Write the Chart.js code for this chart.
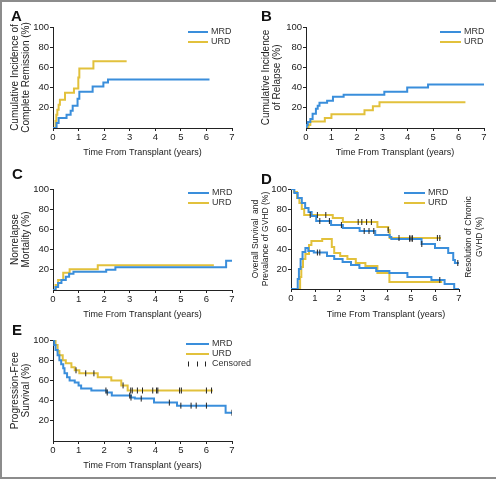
<!DOCTYPE html>
<html>
<head>
<meta charset="utf-8">
<script src="https://cdn.jsdelivr.net/npm/chart.js@4.4.1/dist/chart.umd.min.js"></script>
<style>
  body { margin: 0; background: #fff; }
  #page { position: relative; width: 496px; height: 480px; overflow: hidden; }
  #frame { position: absolute; left: 0; top: 0; width: 496px; height: 479px; box-sizing: border-box;
           border-top: 2px solid #8c8c8c; border-left: 2px solid #8c8c8c; border-bottom: 2px solid #8c8c8c; }
  canvas { position: absolute; }
  .tag { position: absolute; font: bold 15px 'Liberation Sans', Arial, sans-serif; line-height: 15px; color: #111; }
</style>
</head>
<body>
<div id="page">
  <div id="frame"></div>
  <canvas id="chartA" width="248" height="159" style="left:0;top:0"></canvas>
  <canvas id="chartB" width="248" height="159" style="left:248px;top:0"></canvas>
  <canvas id="chartC" width="248" height="161" style="left:0;top:160px"></canvas>
  <canvas id="chartD" width="248" height="159" style="left:248px;top:160px"></canvas>
  <canvas id="chartE" width="262" height="157" style="left:0;top:315px"></canvas>
  <div class="tag" style="left:11px;top:8px">A</div>
  <div class="tag" style="left:261px;top:8px">B</div>
  <div class="tag" style="left:12px;top:166px">C</div>
  <div class="tag" style="left:261px;top:171px">D</div>
  <div class="tag" style="left:12px;top:322px">E</div>
</div>
<script>
// axis ticks
const yearTicks = [0, 1, 2, 3, 4, 5, 6, 7];
const pctTicks = [20, 40, 60, 80, 100];

// A: cumulative incidence of complete remission
const crMrdT = [0, 0.14, 0.22, 0.53, 0.69, 0.77, 0.96, 1.03, 1.55, 1.97, 2.15, 6.12];
const crMrdV = [0, 5, 10, 13, 17, 22, 29, 36, 41, 45, 48, 48];
const crUrdT = [0, 0.1, 0.13, 0.17, 0.22, 0.27, 0.47, 0.82, 0.99, 1.03, 1.58, 2.88];
const crUrdV = [0, 7, 13, 18, 23, 28, 35, 39, 50, 59, 66, 66];

// B: cumulative incidence of relapse
const relMrdT = [0, 0.03, 0.07, 0.17, 0.26, 0.39, 0.46, 0.53, 0.83, 1.06, 1.48, 3.08, 3.98, 4.8, 7.0];
const relMrdV = [0, 3, 6, 9, 14, 19, 22, 25, 27, 31, 33, 36, 40, 43, 43];
const relUrdT = [0, 0.1, 0.17, 0.74, 1.0, 2.3, 2.63, 2.89, 6.27];
const relUrdV = [0, 3, 6.5, 10, 13.5, 17.5, 21.5, 25.5, 25.5];

// C: nonrelapse mortality
const nrmMrdT = [0, 0.1, 0.2, 0.33, 0.5, 0.63, 0.8, 2.08, 2.44, 6.77, 7.0];
const nrmMrdV = [0, 3, 7, 10, 13, 16, 18, 20, 22.5, 29, 29];
const nrmUrdT = [0, 0.1, 0.2, 0.4, 0.65, 1.75, 6.29];
const nrmUrdV = [0, 5, 10, 17, 20.5, 24.5, 24.5];

// D: overall survival, prevalence of chronic GVHD
const osMrdT = [0, 0.14, 0.28, 0.45, 0.59, 0.73, 0.86, 1.05, 1.67, 2.16, 2.86, 3.51, 4.11, 4.18, 5.44, 6.0, 6.55, 6.76, 6.83, 7.0];
const osMrdV = [100, 96, 91, 86, 81, 77, 73, 68, 64, 61, 58, 54, 52, 50, 45, 41, 36, 29, 26, 26];
const osMrdCens = [1.2, 1.6, 2.1, 3.05, 3.25, 3.45, 4.95, 5.05, 5.45, 6.95];
const osUrdT = [0, 0.12, 0.25, 0.35, 0.45, 0.55, 1.74, 2.16, 3.6, 4.05, 4.11, 6.25];
const osUrdV = [100, 97, 91, 86, 80, 74, 71, 67, 62, 59, 51, 51];
const osUrdCens = [0.8, 1.1, 1.45, 2.8, 2.95, 3.15, 3.35, 4.05, 4.5, 4.95, 5.05, 6.1, 6.2];
const gvMrdT = [0, 0.28, 0.33, 0.4, 0.48, 0.6, 0.72, 0.95, 1.5, 1.8, 2.15, 2.5, 2.85, 3.55, 4.1, 4.85, 5.85, 6.4, 6.8, 7.0];
const gvMrdV = [0, 10, 20, 30, 37, 41, 38, 36.5, 33, 30, 27, 24, 21, 18, 16, 12, 9, 5, 0, 0];
const gvMrdCens = [1.1, 1.2, 6.2];
const gvUrdT = [0, 0.38, 0.43, 0.5, 0.6, 0.75, 0.85, 1.3, 1.7, 1.8, 2.05, 2.35, 2.7, 3.1, 3.6, 4.1, 6.3];
const gvUrdV = [0, 12, 22, 30, 35, 44, 48, 50, 42, 36, 33, 30, 26, 23, 16, 7, 7];

// E: progression-free survival
const pfsMrdT = [0, 0.05, 0.1, 0.18, 0.25, 0.32, 0.4, 0.45, 0.55, 0.65, 0.85, 1.0, 1.1, 1.5, 2.1, 2.3, 3.05, 3.2, 3.95, 4.85, 6.75, 7.0];
const pfsMrdV = [100, 95, 90, 85, 80, 76, 72, 67, 63, 60, 58, 55, 52, 50, 48, 45, 43, 42, 38, 35, 28, 28];
const pfsMrdCens = [2.07, 2.12, 3.0, 3.05, 3.45, 4.55, 5.0, 5.4, 5.6, 6.0, 7.0];
const pfsUrdT = [0, 0.1, 0.18, 0.25, 0.38, 0.5, 0.72, 0.85, 1.03, 1.75, 2.28, 2.67, 2.92, 6.25];
const pfsUrdV = [100, 95, 89, 85, 80, 77, 73, 70, 67, 63, 60, 55, 50, 50];
const pfsUrdCens = [0.9, 1.28, 1.6, 2.74, 3.04, 3.1, 3.3, 3.5, 3.9, 4.05, 4.1, 4.95, 5.02, 6.0, 6.2];

const FONT = "'Liberation Sans', Arial, sans-serif";
const BLUE = '#3a8edb';
const GOLD = '#e2c13c';
const INK = '#222';

Chart.defaults.font.family = FONT;
Chart.defaults.font.size = 9;
Chart.defaults.color = INK;

function steps(ts, vs) {
  return ts.map((t, i) => ({ x: t, y: vs[i] }));
}

// censor marks sit on the curve at the value it has at that time
function valueAt(ts, vs, t) {
  let v = vs[0];
  for (let i = 0; i < ts.length; i++) if (ts[i] <= t) v = vs[i];
  return v;
}

function curve(ts, vs, color) {
  return { type: 'line', data: steps(ts, vs), borderColor: color, borderWidth: 2,
           stepped: 'before', pointRadius: 0, fill: false };
}

function censor(times, ts, vs) {
  return { type: 'scatter', data: times.map(t => ({ x: t, y: valueAt(ts, vs, t) })),
           showLine: false, pointStyle: 'line', pointRotation: 90, pointRadius: 3,
           pointBorderColor: INK, pointBorderWidth: 1 };
}

// legend keys and loose texts
const panelDecor = {
  id: 'panelDecor',
  afterDraw(chart, args, opts) {
    const ctx = chart.ctx;
    ctx.save();
    ctx.font = '9px ' + FONT;
    ctx.textBaseline = 'middle';
    (opts.keys || []).forEach((k, i) => {
      const y = opts.keyTop + i * opts.keyGap;
      if (k.censor) {
        ctx.strokeStyle = INK; ctx.lineWidth = 1;
        [2, 11, 19].forEach(dx => {
          ctx.beginPath(); ctx.moveTo(opts.keyX + dx + 0.5, y - 2.5); ctx.lineTo(opts.keyX + dx + 0.5, y + 2.5); ctx.stroke();
        });
      } else {
        ctx.strokeStyle = k.color; ctx.lineWidth = 2;
        ctx.beginPath(); ctx.moveTo(opts.keyX, y); ctx.lineTo(opts.keyX + opts.keyLen, y); ctx.stroke();
      }
      ctx.fillStyle = '#333';
      ctx.textAlign = 'left';
      ctx.fillText(k.label, opts.keyX + opts.keyLen + 3, y);
    });
    (opts.texts || []).forEach(t => {
      ctx.save();
      ctx.translate(t.x, t.y);
      if (t.rotate) ctx.rotate(-Math.PI / 2);
      ctx.font = t.size + 'px ' + FONT;
      ctx.fillStyle = INK;
      ctx.textAlign = 'center';
      t.lines.forEach((line, j) => ctx.fillText(line, 0, j * t.gap));
      ctx.restore();
    });
    ctx.restore();
  }
};

function makePanel(id, p) {
  new Chart(document.getElementById(id), {
    data: { datasets: p.datasets },
    options: {
      responsive: false,
      animation: false,
      events: [],
      layout: { padding: { top: p.top, right: p.right, left: 0, bottom: 0 } },
      scales: {
        x: {
          type: 'linear', min: 0, max: 7,
          afterBuildTicks: s => { s.ticks = yearTicks.map(v => ({ value: v })); },
          afterFit: s => { s.height = p.xH; },
          ticks: { padding: 1, font: { size: 9.5 } },
          grid: { drawOnChartArea: false, tickLength: 3, tickColor: INK, tickWidth: 1 },
          border: { color: INK, width: 1 },
          title: { display: !!p.xTitle, text: p.xTitle, font: { size: 9, lineHeight: '11px' },
                   padding: { top: 0, bottom: 0.5 } }
        },
        y: {
          type: 'linear', min: 0, max: 100,
          afterBuildTicks: s => { s.ticks = pctTicks.map(v => ({ value: v })); },
          afterFit: s => { s.width = p.yW; },
          ticks: { padding: 1, font: { size: 9.5 } },
          grid: { drawOnChartArea: false, tickLength: 3, tickColor: INK, tickWidth: 1 },
          border: { color: INK, width: 1 },
          title: { display: true, text: p.yTitle, font: { size: p.ySize || 10, lineHeight: p.yGap + 'px' },
                   padding: { top: p.yPad, bottom: 0 } }
        }
      },
      plugins: {
        legend: { display: false },
        tooltip: { enabled: false },
        panelDecor: p.decor
      }
    },
    plugins: [panelDecor]
  });
}

const keysMU = [{ label: 'MRD', color: BLUE }, { label: 'URD', color: GOLD }];

makePanel('chartA', {
  top: 27, right: 16, yW: 53, xH: 31, yPad: 9.5, yGap: 11,
  yTitle: ['Cumulative Incidence of', 'Complete Remission (%)'],
  xTitle: 'Time From Transplant (years)',
  datasets: [curve(crMrdT, crMrdV, BLUE), curve(crUrdT, crUrdV, GOLD)],
  decor: { keys: keysMU, keyX: 188, keyLen: 20, keyTop: 32, keyGap: 10 }
});

makePanel('chartB', {
  top: 27, right: 12, yW: 58, xH: 31, yPad: 12.5, yGap: 11,
  yTitle: ['Cumulative Incidence', 'of Relapse (%)'],
  xTitle: 'Time From Transplant (years)',
  datasets: [curve(relMrdT, relMrdV, BLUE), curve(relUrdT, relUrdV, GOLD)],
  decor: { keys: keysMU, keyX: 192, keyLen: 21, keyTop: 32, keyGap: 10 }
});

makePanel('chartC', {
  top: 29, right: 16, yW: 53, xH: 31, yPad: 9.5, yGap: 11,
  yTitle: ['Nonrelapse', 'Mortality (%)'],
  xTitle: 'Time From Transplant (years)',
  datasets: [curve(nrmMrdT, nrmMrdV, BLUE), curve(nrmUrdT, nrmUrdV, GOLD)],
  decor: { keys: keysMU, keyX: 188, keyLen: 21, keyTop: 33, keyGap: 10 }
});

makePanel('chartD', {
  top: 29, right: 37, yW: 43, xH: 30, yPad: 3, yGap: 10, ySize: 8.5,
  yTitle: ['Overall Survival  and', 'Prevalance of GVHD (%)'],
  xTitle: '',
  datasets: [
    censor(osMrdCens, osMrdT, osMrdV), censor(osUrdCens, osUrdT, osUrdV), censor(gvMrdCens, gvMrdT, gvMrdV),
    curve(osMrdT, osMrdV, BLUE), curve(gvMrdT, gvMrdV, BLUE),
    curve(osUrdT, osUrdV, GOLD), curve(gvUrdT, gvUrdV, GOLD)
  ],
  decor: {
    keys: keysMU, keyX: 156, keyLen: 21, keyTop: 33, keyGap: 10,
    texts: [
      { lines: ['Time From Transplant (years)'], x: 138, y: 154.5, size: 9, gap: 11 },
      { lines: ['Resolution of Chronic', 'GVHD (%)'], x: 221, y: 77, size: 8.5, gap: 11, rotate: true }
    ]
  }
});

makePanel('chartE', {
  top: 25, right: 30, yW: 53, xH: 31, yPad: 9.5, yGap: 11,
  yTitle: ['Progression-Free', 'Survival (%)'],
  xTitle: 'Time From Transplant (years)',
  datasets: [
    censor(pfsMrdCens, pfsMrdT, pfsMrdV), censor(pfsUrdCens, pfsUrdT, pfsUrdV),
    curve(pfsMrdT, pfsMrdV, BLUE), curve(pfsUrdT, pfsUrdV, GOLD)
  ],
  decor: {
    keys: [{ label: 'MRD', color: BLUE }, { label: 'URD', color: GOLD }, { label: 'Censored', censor: true }],
    keyX: 186, keyLen: 23, keyTop: 29, keyGap: 10
  }
});
</script>
</body>
</html>
